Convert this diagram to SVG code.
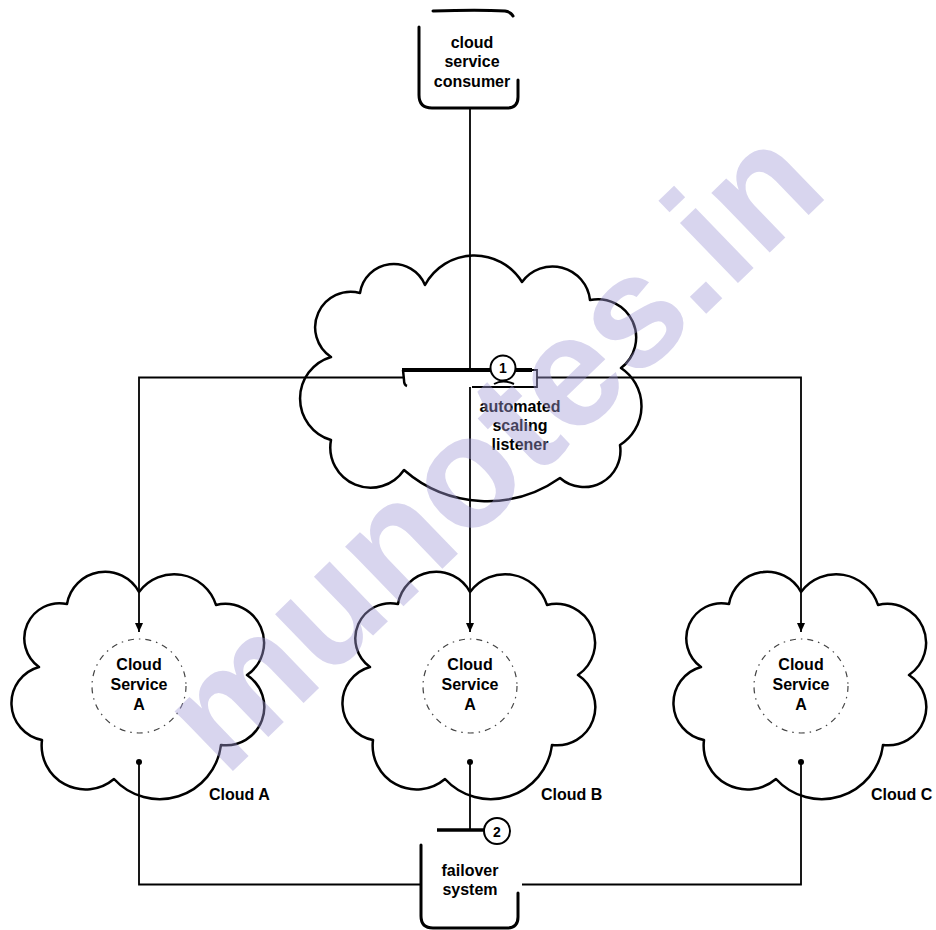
<svg xmlns="http://www.w3.org/2000/svg" width="936" height="930" viewBox="0 0 936 930">
<defs>
<style>
.cloud{fill:#fff;stroke:#000;stroke-width:2.5;stroke-linejoin:round}
.ln{fill:none;stroke:#000;stroke-width:1.8}
.box{fill:none;stroke:#000;stroke-width:3;stroke-linecap:round}
.svc{fill:none;stroke:#444;stroke-width:1.2;stroke-dasharray:6 5 1.5 5}
.t{font-family:"Liberation Sans",Arial,sans-serif;font-weight:bold;font-size:16px;fill:#000;text-anchor:middle}
.lbl{font-family:"Liberation Sans",Arial,sans-serif;font-weight:bold;font-size:16px;fill:#000}
.num{font-family:"Liberation Sans",Arial,sans-serif;font-weight:bold;font-size:14px;fill:#000;text-anchor:middle}
.wm{font-family:"Liberation Sans",Arial,sans-serif;font-weight:bold;font-size:158px;fill:#a39bd6;fill-opacity:0.42;text-anchor:middle}
</style>
<marker id="arrow" markerUnits="userSpaceOnUse" markerWidth="9" markerHeight="9" refX="9" refY="4" orient="auto">
<path d="M0,0 L9,4 L0,8 z" fill="#000"/>
</marker>
<marker id="dot" markerUnits="userSpaceOnUse" markerWidth="8" markerHeight="8" refX="4" refY="4">
<circle cx="4" cy="4" r="3" fill="#000"/>
</marker>
<path id="smallCloud" class="cloud" d="M0,0 A43.8,43.8 0 0 1 77,13 A38.9,38.9 0 0 1 108,83 A38.3,38.3 0 0 1 82,153 A61.8,61.8 0 0 1 -25,187 A43.9,43.9 0 0 1 -97,148 A37.5,37.5 0 0 1 -100,75 A35.2,35.2 0 0 1 -72,12 A38.6,38.6 0 0 1 0,0 Z"/>
</defs>
<rect width="936" height="930" fill="#fff"/>

<g id="cloud-listener">
<path class="cloud" d="M331,357 A35.6,35.6 0 0 1 360,293 A34,34 0 0 1 425,285 A56,56 0 0 1 522,282 A37.7,37.7 0 0 1 590,300 A38.3,38.3 0 0 1 621,368 A45.8,45.8 0 0 1 620,445 A36.4,36.4 0 0 1 560,478 A126.5,126.5 0 0 1 404,470 A40.3,40.3 0 0 1 331,440 A43.3,43.3 0 0 1 331,357 Z"/>
</g>

<g id="cloud-a">
<use href="#smallCloud" transform="translate(139,592)"/>
<circle class="svc" cx="139" cy="686" r="47"/>
<text class="t" x="139" y="670">Cloud</text>
<text class="t" x="139" y="690">Service</text>
<text class="t" x="139" y="710">A</text>
<text class="lbl" x="209" y="800">Cloud A</text>
</g>

<g id="cloud-b">
<use href="#smallCloud" transform="translate(470,592)"/>
<circle class="svc" cx="470" cy="686" r="47"/>
<text class="t" x="470" y="670">Cloud</text>
<text class="t" x="470" y="690">Service</text>
<text class="t" x="470" y="710">A</text>
<text class="lbl" x="541" y="800">Cloud B</text>
</g>

<g id="cloud-c">
<use href="#smallCloud" transform="translate(801,592)"/>
<circle class="svc" cx="801" cy="686" r="47"/>
<text class="t" x="801" y="670">Cloud</text>
<text class="t" x="801" y="690">Service</text>
<text class="t" x="801" y="710">A</text>
<text class="lbl" x="871" y="800">Cloud C</text>
</g>

<g id="connectors">
<path class="ln" d="M470,108 L470,372"/>
<path class="ln" d="M470,387 L470,632" marker-end="url(#arrow)"/>
<path class="ln" d="M404,377.5 L139,377.5 L139,632" marker-end="url(#arrow)"/>
<path class="ln" d="M537,377.5 L801,377.5 L801,632" marker-end="url(#arrow)"/>
<path class="ln" d="M139,762 L139,884.5 L421,884.5" marker-start="url(#dot)"/>
<path class="ln" d="M801,762 L801,884.5 L522,884.5" marker-start="url(#dot)"/>
<path class="ln" d="M470,762 L470,830" marker-start="url(#dot)"/>
</g>

<g id="consumer">
<path class="box" d="M433,11 C460,10 490,10 505,11 Q511,12 513,16"/>
<path class="box" d="M419,27 L419,95 Q419,108 432,108 L507,108 Q518,108 518,97 L518,80"/>
<text class="t" x="472" y="48">cloud</text>
<text class="t" x="472" y="67">service</text>
<text class="t" x="472" y="87">consumer</text>
</g>

<g id="listener">
<rect x="404" y="372" width="133" height="14" fill="#fff"/>
<path d="M402,370 L532,370" stroke="#000" stroke-width="4" fill="none"/>
<path d="M403,370 L404,380 Q404,385 407,386" stroke="#000" stroke-width="2.5" fill="none"/>
<path d="M526,370 L537,370 L537,387 L472,387" stroke="#000" stroke-width="1.8" fill="none"/>
<path d="M494,384 Q503,379 514,384" stroke="#000" stroke-width="2" fill="none"/>
<circle cx="503" cy="368" r="12.5" fill="#fff" stroke="#000" stroke-width="2"/>
<text class="num" x="503" y="373">1</text>
<text class="t" x="520" y="412">automated</text>
<text class="t" x="520" y="431">scaling</text>
<text class="t" x="520" y="450">listener</text>
</g>

<g id="failover">
<path d="M437,830 L484,830" stroke="#000" stroke-width="3.5" fill="none"/>
<circle cx="497" cy="831" r="13" fill="#fff" stroke="#000" stroke-width="2"/>
<text class="num" x="497" y="837">2</text>
<path class="box" d="M421,845 L421,916 Q421,928 433,928 L507,928 Q518,928 518,917 L518,893"/>
<text class="t" x="470" y="876">failover</text>
<text class="t" x="470" y="895">system</text>
</g>

<text class="wm" x="528" y="486" transform="rotate(-44 528 486)">munotes.in</text>
</svg>
